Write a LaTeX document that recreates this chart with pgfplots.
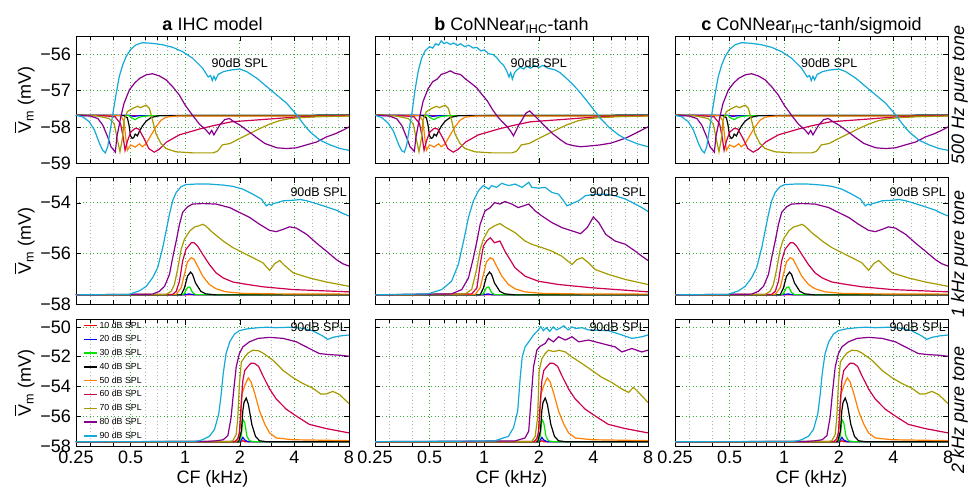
\documentclass[border=0pt]{standalone}
\usepackage{fontspec}
\setmainfont{Liberation Sans}
\usepackage{pgfplots}
\pgfplotsset{compat=1.18}
\usepackage{pgfplotstable}

\definecolor{cA}{RGB}{255,0,0}
\definecolor{cB}{RGB}{0,0,255}
\definecolor{cC}{RGB}{0,230,0}
\definecolor{cD}{RGB}{0,0,0}
\definecolor{cE}{RGB}{255,128,0}
\definecolor{cF}{RGB}{205,0,80}
\definecolor{cG}{RGB}{165,155,0}
\definecolor{cH}{RGB}{135,0,140}
\definecolor{cI}{RGB}{20,170,215}
\definecolor{gridgreen}{RGB}{60,170,60}

\newcommand\lbl{\fontsize{18}{21}\selectfont}
\newcommand\splfont{\fontsize{12.5}{14}\selectfont}
\tikzset{spl/.style={font=\splfont, inner sep=2pt}}
\newcommand\Vbar{\leavevmode\hbox{\rlap{\hspace{0.5pt}\rule[15.2pt]{11pt}{1.1pt}}V}}
\newcommand\Vmlabel{\Vbar\textsubscript{m} (mV)}

% ---------------- Row 1: 500 Hz pure tone (panel a) ----------------
\pgfplotstableread{
x y
0.25 -57.68
0.5 -57.68
1 -57.68
8 -57.68
}\OneA
\pgfplotstableread{
x y
0.25 -57.68
0.49 -57.68
0.52 -57.71
0.56 -57.69
8 -57.68
}\OneB
\pgfplotstableread{
x y
0.25 -57.68
0.49 -57.69
0.51 -57.76
0.53 -57.80
0.55 -57.75
0.58 -57.71
0.65 -57.69
8 -57.68
}\OneC
\pgfplotstableread{
x y
0.25 -57.68
0.46 -57.69
0.48 -57.75
0.49 -57.95
0.50 -58.25
0.51 -58.32
0.52 -58.30
0.53 -58.20
0.545 -58.25
0.56 -58.12
0.58 -57.98
0.61 -57.84
0.65 -57.74
0.72 -57.69
8 -57.68
}\OneD
\pgfplotstableread{
x y
0.25 -57.68
0.44 -57.69
0.46 -57.85
0.47 -58.30
0.48 -58.65
0.50 -58.50
0.53 -58.56
0.56 -58.47
0.58 -58.55
0.61 -58.46
0.64 -58.28
0.69 -58.00
0.735 -57.82
0.785 -57.73
0.9 -57.70
8 -57.70
}\OneE
\pgfplotstableread{
x y
0.25 -57.68
0.35 -57.69
0.41 -57.72
0.44 -57.91
0.455 -58.28
0.466 -58.65
0.48 -58.40
0.50 -58.15
0.53 -58.04
0.555 -58.06
0.59 -58.30
0.63 -58.60
0.675 -58.70
0.72 -58.62
0.79 -58.42
0.93 -58.22
1.2 -58.06
1.42 -57.97
1.8 -57.86
2.8 -57.79
4.0 -57.73
8.0 -57.68
}\OneF
\pgfplotstableread{
x y
0.25 -57.68
0.32 -57.69
0.381 -57.77
0.406 -57.91
0.42 -58.28
0.437 -58.69
0.452 -58.28
0.46 -57.81
0.48 -57.58
0.513 -57.49
0.546 -57.43
0.565 -57.47
0.583 -57.44
0.61 -57.40
0.635 -57.49
0.66 -57.81
0.69 -58.19
0.735 -58.46
0.785 -58.60
0.89 -58.69
1.1 -58.72
1.42 -58.72
1.5 -58.68
1.55 -58.60
1.6 -58.50
1.77 -58.46
2.0 -58.32
2.28 -58.18
2.57 -58.05
2.9 -57.93
3.3 -57.83
3.7 -57.78
4.2 -57.75
5.4 -57.72
8 -57.70
}\OneG
\pgfplotstableread{
x y
0.25 -57.68
0.30 -57.70
0.33 -57.77
0.351 -57.95
0.374 -58.28
0.39 -58.55
0.412 -58.70
0.42 -58.28
0.442 -57.72
0.46 -57.35
0.492 -56.98
0.524 -56.80
0.56 -56.66
0.61 -56.56
0.66 -56.53
0.72 -56.59
0.785 -56.70
0.853 -56.89
0.928 -57.12
1.0 -57.40
1.098 -57.68
1.2 -57.93
1.3 -58.08
1.36 -58.20
1.4 -58.10
1.44 -58.22
1.48 -58.12
1.55 -57.95
1.65 -57.80
1.75 -57.77
1.85 -57.85
2.0 -57.95
2.2 -58.10
2.45 -58.28
2.75 -58.46
3.2 -58.58
3.63 -58.60
4.1 -58.58
4.65 -58.50
5.3 -58.42
6.0 -58.28
6.8 -58.18
7.5 -58.08
8.0 -58.00
}\OneH
\pgfplotstableread{
x y
0.25 -57.68
0.272 -57.72
0.296 -57.86
0.316 -58.09
0.337 -58.46
0.351 -58.65
0.363 -58.72
0.374 -58.55
0.381 -58.28
0.398 -57.68
0.415 -57.12
0.433 -56.61
0.452 -56.29
0.472 -56.06
0.501 -55.85
0.536 -55.73
0.583 -55.67
0.661 -55.69
0.752 -55.73
0.853 -55.80
0.968 -55.92
1.098 -56.10
1.248 -56.38
1.34 -56.62
1.38 -56.58
1.41 -56.72
1.44 -56.60
1.47 -56.70
1.52 -56.55
1.63 -56.47
1.77 -56.43
2.0 -56.40
2.18 -56.47
2.49 -56.66
2.82 -56.89
3.2 -57.12
3.63 -57.35
4.12 -57.67
4.5 -57.93
4.88 -58.14
5.54 -58.37
6.3 -58.50
7.15 -58.60
8.0 -58.65
}\OneI

% panel b, row 1 (differing curves)
\pgfplotstableread{
x y
0.25 -57.68
0.272 -57.74
0.296 -57.90
0.316 -58.12
0.337 -58.48
0.351 -58.66
0.363 -58.70
0.374 -58.50
0.385 -58.10
0.40 -57.60
0.415 -57.00
0.433 -56.45
0.452 -56.10
0.472 -55.90
0.50 -55.78
0.52 -55.82
0.54 -55.70
0.56 -55.74
0.58 -55.62
0.60 -55.70
0.62 -55.66
0.65 -55.72
0.68 -55.68
0.71 -55.75
0.74 -55.70
0.78 -55.78
0.82 -55.74
0.87 -55.82
0.91 -55.80
0.96 -55.90
1.0 -55.87
1.06 -55.98
1.12 -56.00
1.17 -56.08
1.22 -56.20
1.28 -56.30
1.33 -56.45
1.37 -56.62
1.40 -56.50
1.43 -56.68
1.47 -56.50
1.52 -56.42
1.58 -56.35
1.65 -56.40
1.72 -56.32
1.8 -56.38
1.9 -56.30
2.0 -56.36
2.1 -56.30
2.25 -56.38
2.45 -56.42
2.62 -56.50
2.9 -56.70
3.25 -56.95
3.6 -57.22
3.98 -57.50
4.4 -57.78
4.9 -58.02
5.5 -58.22
6.1 -58.35
7.0 -58.47
8.0 -58.55
}\bOneI
\pgfplotstableread{
x y
0.25 -57.68
0.30 -57.70
0.33 -57.78
0.351 -57.96
0.374 -58.30
0.39 -58.55
0.412 -58.68
0.42 -58.30
0.442 -57.70
0.46 -57.30
0.49 -56.95
0.52 -56.75
0.55 -56.68
0.58 -56.55
0.62 -56.50
0.65 -56.45
0.69 -56.52
0.74 -56.55
0.79 -56.68
0.85 -56.80
0.91 -56.92
0.97 -57.10
1.04 -57.28
1.12 -57.55
1.2 -57.75
1.28 -57.90
1.34 -58.00
1.4 -58.12
1.45 -58.25
1.5 -58.10
1.55 -57.95
1.62 -57.80
1.7 -57.62
1.78 -57.56
1.86 -57.65
2.02 -57.83
2.2 -58.02
2.4 -58.20
2.62 -58.35
2.84 -58.47
3.1 -58.52
3.4 -58.55
3.8 -58.53
4.35 -58.50
5.0 -58.45
5.5 -58.38
6.1 -58.30
7.0 -58.15
8.0 -58.00
}\bOneH

% ---------------- Row 2: 1 kHz pure tone (panel a) ----------------
\pgfplotstableread{
x y
0.25 -57.64
1.0 -57.64
1.06 -57.63
1.12 -57.64
8 -57.64
}\TwoA
\pgfplotstableread{
x y
0.25 -57.64
0.99 -57.64
1.05 -57.60
1.1 -57.63
1.2 -57.64
8 -57.64
}\TwoB
\pgfplotstableread{
x y
0.25 -57.64
0.97 -57.63
0.99 -57.58
1.03 -57.35
1.06 -57.33
1.098 -57.55
1.14 -57.63
8 -57.64
}\TwoC
\pgfplotstableread{
x y
0.25 -57.64
0.95 -57.64
0.99 -57.37
1.03 -56.90
1.07 -56.74
1.098 -56.83
1.14 -57.17
1.22 -57.50
1.30 -57.60
1.48 -57.64
8 -57.64
}\TwoD
\pgfplotstableread{
x y
0.25 -57.64
0.892 -57.62
0.95 -57.36
0.99 -56.83
1.03 -56.33
1.08 -56.17
1.12 -56.23
1.17 -56.50
1.25 -56.90
1.36 -57.23
1.48 -57.40
1.68 -57.52
2.08 -57.58
3.18 -57.60
8 -57.61
}\TwoE
\pgfplotstableread{
x y
0.25 -57.64
0.853 -57.62
0.892 -57.50
0.93 -57.10
0.968 -56.30
1.01 -55.84
1.08 -55.58
1.12 -55.58
1.17 -55.71
1.25 -56.04
1.36 -56.44
1.48 -56.77
1.62 -56.97
1.83 -57.13
2.08 -57.20
2.68 -57.32
3.94 -57.43
8 -57.52
}\TwoF
\pgfplotstableread{
x y
0.25 -57.64
0.785 -57.62
0.836 -57.50
0.872 -57.23
0.912 -56.57
0.95 -55.84
0.99 -55.44
1.06 -55.11
1.13 -54.95
1.19 -54.91
1.25 -54.85
1.30 -54.92
1.42 -55.18
1.62 -55.51
1.83 -55.77
2.08 -55.97
2.36 -56.17
2.68 -56.37
2.92 -56.67
3.12 -56.40
3.32 -56.28
3.5 -56.45
3.94 -56.77
4.84 -56.97
6.0 -57.13
8 -57.30
}\TwoG
\pgfplotstableread{
x y
0.25 -57.64
0.661 -57.61
0.72 -57.50
0.77 -57.30
0.819 -56.83
0.853 -56.17
0.892 -55.51
0.93 -54.85
0.968 -54.38
1.03 -54.16
1.098 -54.05
1.248 -54.03
1.48 -54.05
1.76 -54.19
1.99 -54.38
2.27 -54.58
2.57 -54.85
2.92 -55.09
3.18 -55.14
3.47 -55.05
3.76 -54.95
4.1 -55.00
4.68 -55.25
5.27 -55.58
6.0 -55.91
6.8 -56.24
7.4 -56.41
8.0 -56.50
}\TwoH
\pgfplotstableread{
x y
0.25 -57.64
0.49 -57.62
0.56 -57.48
0.61 -57.30
0.66 -56.97
0.705 -56.57
0.752 -55.77
0.785 -55.11
0.819 -54.45
0.853 -53.92
0.892 -53.59
0.95 -53.36
1.01 -53.28
1.14 -53.26
1.36 -53.26
1.62 -53.30
1.83 -53.35
2.08 -53.46
2.36 -53.66
2.63 -53.85
2.8 -54.12
2.9 -54.05
3.0 -54.10
3.05 -54.03
3.2 -54.00
3.47 -53.92
3.94 -53.90
4.3 -53.87
4.68 -53.92
5.27 -54.03
6.0 -54.16
6.8 -54.29
7.4 -54.42
8.0 -54.52
}\TwoI

% panel b, row 2 (differing curves)
\pgfplotstableread{
x y
0.25 -57.64
0.853 -57.60
0.912 -57.36
0.95 -56.44
0.99 -55.71
1.03 -55.51
1.08 -55.38
1.14 -55.58
1.22 -55.51
1.30 -55.91
1.48 -56.57
1.68 -56.90
1.99 -57.10
2.57 -57.23
3.94 -57.36
8.0 -57.52
}\bTwoF
\pgfplotstableread{
x y
0.25 -57.64
0.785 -57.60
0.853 -57.43
0.912 -56.57
0.95 -55.84
0.99 -55.44
1.06 -55.05
1.14 -54.91
1.22 -54.82
1.30 -54.95
1.48 -55.18
1.68 -55.51
1.83 -55.64
2.08 -55.77
2.36 -55.91
2.68 -56.11
3.05 -56.44
3.25 -56.24
3.47 -56.17
3.76 -56.37
4.1 -56.64
4.84 -56.83
6.0 -57.03
8.0 -57.23
}\bTwoG
\pgfplotstableread{
x y
0.25 -57.64
0.661 -57.60
0.752 -57.43
0.819 -56.97
0.872 -56.17
0.912 -55.51
0.95 -54.85
1.01 -54.32
1.08 -54.19
1.14 -53.99
1.22 -54.05
1.30 -53.95
1.42 -54.05
1.54 -54.19
1.76 -54.05
1.91 -54.32
2.08 -54.52
2.36 -54.78
2.68 -54.98
3.05 -55.11
3.4 -55.22
3.7 -54.98
4.0 -54.56
4.28 -54.78
4.68 -55.25
5.27 -55.51
6.0 -55.64
6.8 -55.91
7.4 -56.11
8.0 -56.28
}\bTwoH
\pgfplotstableread{
x y
0.25 -57.64
0.49 -57.60
0.583 -57.43
0.661 -57.10
0.72 -56.44
0.77 -55.51
0.819 -54.58
0.872 -53.92
0.93 -53.52
0.99 -53.32
1.06 -53.46
1.098 -53.32
1.17 -53.39
1.25 -53.23
1.36 -53.32
1.48 -53.26
1.62 -53.39
1.76 -53.19
1.83 -53.39
1.99 -53.42
2.17 -53.39
2.36 -53.59
2.57 -53.66
2.74 -53.92
2.86 -54.12
3.05 -54.03
3.32 -53.92
3.61 -53.72
4.1 -53.66
4.68 -53.66
5.27 -53.72
6.0 -53.85
6.8 -54.05
7.4 -54.19
8.0 -54.34
}\bTwoI

% ---------------- Row 3: 2 kHz pure tone (panel a) ----------------
\pgfplotstableread{
x y
0.25 -57.71
2.04 -57.71
2.08 -57.64
2.13 -57.71
8 -57.71
}\ThrA
\pgfplotstableread{
x y
0.25 -57.71
2.01 -57.71
2.08 -57.42
2.13 -57.60
2.22 -57.71
8 -57.71
}\ThrB
\pgfplotstableread{
x y
0.25 -57.71
1.99 -57.71
2.04 -57.30
2.08 -56.21
2.13 -56.43
2.19 -57.35
2.26 -57.65
2.4 -57.71
8 -57.71
}\ThrC
\pgfplotstableread{
x y
0.25 -57.71
1.97 -57.71
2.04 -57.00
2.08 -55.60
2.11 -55.08
2.17 -54.78
2.23 -55.20
2.33 -56.55
2.44 -57.35
2.57 -57.65
2.8 -57.71
8 -57.71
}\ThrD
\pgfplotstableread{
x y
0.25 -57.71
1.91 -57.71
1.95 -57.60
2.01 -56.80
2.06 -54.50
2.13 -53.95
2.19 -53.60
2.23 -53.42
2.31 -53.70
2.41 -54.40
2.57 -55.65
2.75 -56.55
2.92 -57.12
3.18 -57.46
3.94 -57.58
8 -57.64
}\ThrE
\pgfplotstableread{
x y
0.25 -57.71
1.88 -57.70
1.95 -57.50
1.99 -57.12
2.04 -54.97
2.08 -53.60
2.13 -52.93
2.22 -52.65
2.31 -52.43
2.41 -52.45
2.54 -52.65
2.68 -53.27
2.92 -54.17
3.18 -54.85
3.61 -55.53
4.1 -55.99
4.84 -56.55
6.0 -56.83
8 -57.12
}\ThrF
\pgfplotstableread{
x y
0.25 -57.71
1.75 -57.70
1.83 -57.65
1.91 -57.23
1.95 -56.10
1.99 -53.83
2.04 -52.36
2.13 -52.02
2.22 -51.75
2.36 -51.56
2.54 -51.60
2.68 -51.75
3.05 -52.24
3.47 -52.93
3.94 -53.42
4.44 -53.79
5.03 -54.10
5.6 -54.51
6.0 -54.50
6.52 -54.33
7.1 -54.55
8 -55.15
}\ThrG
\pgfplotstableread{
x y
0.25 -57.71
1.3 -57.70
1.48 -57.65
1.62 -57.58
1.72 -57.30
1.79 -56.10
1.85 -54.29
1.91 -52.70
1.99 -51.79
2.08 -51.34
2.26 -51.00
2.52 -50.77
2.92 -50.70
3.47 -50.77
4.1 -51.00
4.84 -51.45
5.5 -51.79
6.25 -51.86
7.1 -51.90
8 -51.97
}\ThrH
\pgfplotstableread{
x y
0.25 -57.71
1.1 -57.70
1.19 -57.65
1.25 -57.57
1.36 -57.35
1.45 -56.89
1.53 -55.87
1.58 -54.51
1.62 -53.15
1.68 -51.79
1.76 -51.00
1.87 -50.48
1.99 -50.25
2.17 -50.14
2.52 -50.05
2.8 -50.02
3.18 -50.05
3.76 -50.02
4.44 -50.09
5.03 -50.25
5.74 -50.61
6.1 -50.84
6.52 -50.70
7.1 -50.61
8 -50.54
}\ThrI

% panel b, row 3 (differing curves)
\pgfplotstableread{
x y
0.25 -57.71
1.83 -57.70
1.91 -57.35
1.97 -56.10
2.01 -52.93
2.08 -52.13
2.17 -51.79
2.26 -51.56
2.4 -51.65
2.52 -51.61
2.57 -51.56
2.8 -51.68
3.05 -52.02
3.47 -52.47
3.94 -52.93
4.44 -53.38
5.03 -53.72
5.74 -54.17
6.25 -54.40
6.65 -54.06
7.1 -54.40
7.7 -54.85
8 -55.08
}\bThrG
\pgfplotstableread{
x y
0.25 -57.71
1.48 -57.66
1.68 -57.46
1.76 -57.00
1.81 -54.97
1.87 -52.70
1.95 -51.56
2.04 -51.29
2.17 -51.11
2.26 -50.77
2.41 -51.00
2.57 -50.66
2.8 -50.88
3.05 -50.66
3.32 -51.00
3.76 -50.88
4.44 -51.11
5.27 -51.34
5.74 -51.68
6.52 -51.45
7.4 -51.68
8 -51.56
}\bThrH
\pgfplotstableread{
x y
0.25 -57.71
1.14 -57.66
1.36 -57.35
1.45 -56.78
1.53 -55.65
1.58 -53.38
1.62 -52.02
1.68 -51.34
1.79 -50.88
1.87 -50.54
1.99 -50.20
2.05 -49.98
2.12 -50.25
2.2 -50.05
2.3 -50.30
2.4 -50.00
2.5 -50.20
2.6 -50.10
2.75 -49.92
2.9 -50.20
3.05 -50.00
3.2 -50.10
3.47 -50.05
3.76 -50.20
4.84 -50.25
5.74 -50.54
6.52 -50.77
7.4 -50.66
8 -50.54
}\bThrI

\newcommand\drawcurves[9]{%
  \addplot[cA, line width=1.2pt] table {#1};
  \addplot[cB, line width=1.2pt] table {#2};
  \addplot[cC, line width=1.2pt] table {#3};
  \addplot[cD, line width=1.2pt] table {#4};
  \addplot[cE, line width=1.2pt] table {#5};
  \addplot[cF, line width=1.2pt] table {#6};
  \addplot[cG, line width=1.2pt] table {#7};
  \addplot[cH, line width=1.2pt] table {#8};
  \addplot[cI, line width=1.2pt] table {#9};
}

% common axis settings (set globally)
\pgfplotsset{
  scale only axis, width=273pt, height=126.5pt,
  xmin=0.25, xmax=8,
  xtick={0.25,0.5,1,2,4,8},
  minor xtick={0.3,0.4,0.6,0.7,0.8,0.9,3,5,6,7},
  xmajorgrids, xminorgrids, ymajorgrids,
  major grid style={dash pattern=on 0.9pt off 2.6pt, gridgreen, line width=0.7pt},
  minor grid style={dash pattern=on 0.9pt off 2.6pt, gray!60, line width=0.7pt},
  tick align=inside, major tick length=5pt, minor tick length=3.5pt,
  tick style={black, line width=0.5pt},
  axis line style={line width=0.8pt},
  yticklabel style={font=\lbl, anchor=east, xshift=-1.5pt},
  xticklabel style={font=\lbl, anchor=base, yshift=-17pt},
  title style={at={(0.5,1)}, anchor=base, font=\lbl},
  xlabel style={at={(0.5,0)}, anchor=base, yshift=-37pt, font=\lbl},
  ylabel style={at={(0,0.5)}, anchor=base, yshift=45pt, font=\lbl},
}

\begin{document}
\begin{tikzpicture}
\path[use as bounding box] (0,0) rectangle (968pt,487pt);

% ================= Row 1 =================
\begin{semilogxaxis}[at={(76pt,324pt)}, ymin=-59, ymax=-55.5, ytick={-59,-58,-57,-56},
  title={\textbf{a} IHC model}, xticklabels={},
  yticklabels={−59,−58,−57,−56},
  ylabel={\Vmlabel}]
\drawcurves{\OneA}{\OneB}{\OneC}{\OneD}{\OneE}{\OneF}{\OneG}{\OneH}{\OneI}
\node[spl] at (rel axis cs:0.60,0.787) {90dB SPL};
\end{semilogxaxis}

\begin{semilogxaxis}[at={(375pt,324pt)}, ymin=-59, ymax=-55.5, ytick={-59,-58,-57,-56},
  title={\textbf{b} CoNNear\textsubscript{IHC}-tanh}, xticklabels={}, yticklabels={}]
\drawcurves{\OneA}{\OneB}{\OneC}{\OneD}{\OneE}{\OneF}{\OneG}{\bOneH}{\bOneI}
\node[spl] at (rel axis cs:0.60,0.787) {90dB SPL};
\end{semilogxaxis}

\begin{semilogxaxis}[at={(675pt,324pt)}, ymin=-59, ymax=-55.5, ytick={-59,-58,-57,-56},
  title={\textbf{c} CoNNear\textsubscript{IHC}-tanh/sigmoid}, xticklabels={}, yticklabels={}]
\drawcurves{\OneA}{\OneB}{\OneC}{\OneD}{\OneE}{\OneF}{\OneG}{\OneH}{\OneI}
\node[spl] at (rel axis cs:0.565,0.787) {90dB SPL};
\end{semilogxaxis}

% ================= Row 2 =================
\begin{semilogxaxis}[at={(76pt,183pt)}, ymin=-58, ymax=-53, ytick={-58,-56,-54},
  xticklabels={}, yticklabels={−58,−56,−54},
  ylabel={\Vmlabel}]
\drawcurves{\TwoA}{\TwoB}{\TwoC}{\TwoD}{\TwoE}{\TwoF}{\TwoG}{\TwoH}{\TwoI}
\node[spl, anchor=east] at (rel axis cs:1,0.885) {90dB SPL};
\end{semilogxaxis}

\begin{semilogxaxis}[at={(375pt,183pt)}, ymin=-58, ymax=-53, ytick={-58,-56,-54},
  xticklabels={}, yticklabels={}]
\drawcurves{\TwoA}{\TwoB}{\TwoC}{\TwoD}{\TwoE}{\bTwoF}{\bTwoG}{\bTwoH}{\bTwoI}
\node[spl, anchor=east] at (rel axis cs:1,0.885) {90dB SPL};
\end{semilogxaxis}

\begin{semilogxaxis}[at={(675pt,183pt)}, ymin=-58, ymax=-53, ytick={-58,-56,-54},
  xticklabels={}, yticklabels={}]
\drawcurves{\TwoA}{\TwoB}{\TwoC}{\TwoD}{\TwoE}{\TwoF}{\TwoG}{\TwoH}{\TwoI}
\node[spl, anchor=east] at (rel axis cs:1,0.885) {90dB SPL};
\end{semilogxaxis}

% ================= Row 3 =================
\begin{semilogxaxis}[at={(76pt,41pt)}, ymin=-58, ymax=-49.5, ytick={-58,-56,-54,-52,-50},
  xticklabels={0.25,0.5,1,2,4,8}, xlabel={CF (kHz)},
  yticklabels={−58,−56,−54,−52,−50},
  ylabel={\Vmlabel},
  legend style={at={(0,1)}, anchor=north west, xshift=6pt, yshift=1pt, draw=none, fill=none,
     font=\fontsize{8.8}{10}\selectfont, row sep=1.9pt, inner sep=1pt,
     cells={anchor=west}},
  legend image code/.code={\draw[#1, line width=1.4pt] (0pt,0pt) -- (13pt,0pt);}]
\drawcurves{\ThrA}{\ThrB}{\ThrC}{\ThrD}{\ThrE}{\ThrF}{\ThrG}{\ThrH}{\ThrI}
\legend{10 dB SPL,20 dB SPL,30 dB SPL,40 dB SPL,50 dB SPL,60 dB SPL,70 dB SPL,80 dB SPL,90 dB SPL}
\node[spl, anchor=east] at (rel axis cs:1,0.94) {90dB SPL};
\end{semilogxaxis}

\begin{semilogxaxis}[at={(375pt,41pt)}, ymin=-58, ymax=-49.5, ytick={-58,-56,-54,-52,-50},
  xticklabels={0.25,0.5,1,2,4,8}, xlabel={CF (kHz)}, yticklabels={}]
\drawcurves{\ThrA}{\ThrB}{\ThrC}{\ThrD}{\ThrE}{\ThrF}{\bThrG}{\bThrH}{\bThrI}
\node[spl, anchor=east] at (rel axis cs:1,0.94) {90dB SPL};
\end{semilogxaxis}

\begin{semilogxaxis}[at={(675pt,41pt)}, ymin=-58, ymax=-49.5, ytick={-58,-56,-54,-52,-50},
  xticklabels={0.25,0.5,1,2,4,8}, xlabel={CF (kHz)}, yticklabels={}]
\drawcurves{\ThrA}{\ThrB}{\ThrC}{\ThrD}{\ThrE}{\ThrF}{\ThrG}{\ThrH}{\ThrI}
\node[spl, anchor=east] at (rel axis cs:1,0.94) {90dB SPL};
\end{semilogxaxis}

% right-hand row labels
\node[rotate=90, anchor=base, font=\lbl\itshape] at (964pt,392pt) {500 Hz pure tone};
\node[rotate=90, anchor=base, font=\lbl\itshape] at (964pt,233pt) {1 kHz pure tone};
\node[rotate=90, anchor=base, font=\lbl\itshape] at (964pt,77pt) {2 kHz pure tone};
\end{tikzpicture}
\end{document}
